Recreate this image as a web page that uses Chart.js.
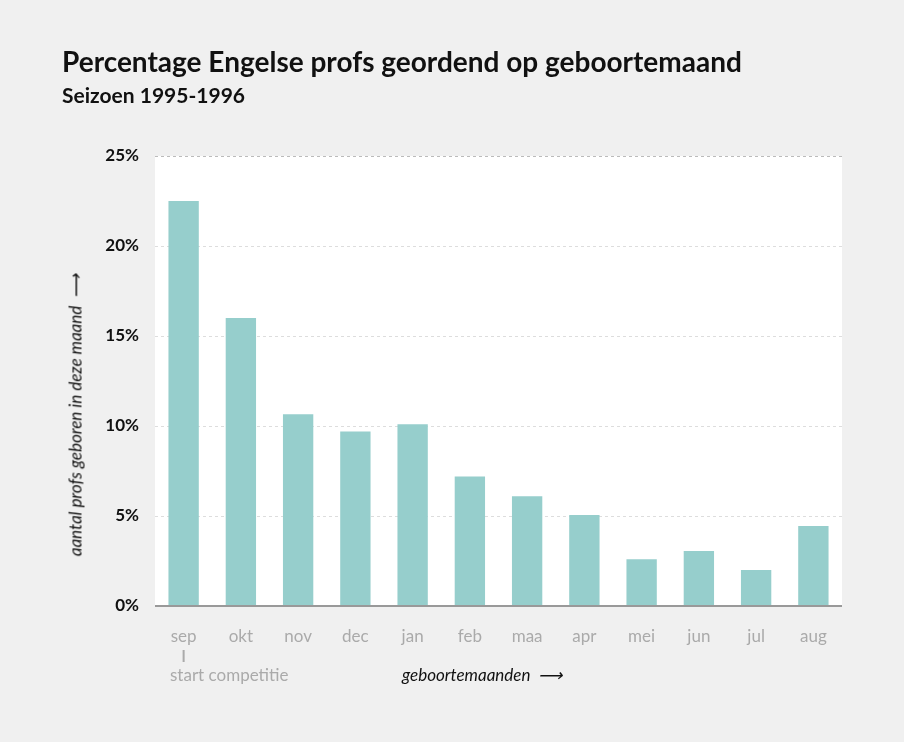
<!DOCTYPE html>
<html><head><meta charset="utf-8">
<script src="https://cdn.jsdelivr.net/npm/chart.js@4"></script>
<style>
body{margin:0;background:#f0f0f0;font-family:Lato,"Open Sans",sans-serif;}
#wrap{position:relative;width:904px;height:742px;}
canvas{position:absolute;left:0;top:0;}
.t{position:absolute;white-space:nowrap;}
</style></head><body>
<div id="wrap">
<canvas id="c" width="904" height="742"></canvas>
<div class="t" style="left:62px;top:44px;font-size:28px;font-weight:bold;color:#111;">Percentage Engelse profs geordend op geboortemaand</div>
<div class="t" style="left:62px;top:82px;font-size:21px;font-weight:bold;color:#111;">Seizoen 1995-1996</div>
<div class="t" style="left:170px;top:664px;font-size:17px;color:#aaa;">start competitie</div>
<div class="t" style="left:402px;top:664px;font-size:17px;font-style:italic;color:#111;">geboortemaanden &nbsp;⟶</div>
<div class="t" style="left:75px;top:415px;font-size:17px;font-style:italic;color:#111;transform:translate(-50%,-50%) rotate(-90deg);">aantal profs geboren in deze maand &nbsp;⟶</div>
</div>
<script>
const months=["sep","okt","nov","dec","jan","feb","maa","apr","mei","jun","jul","aug"];
const percentages=[22.5,16.0,10.65,9.7,10.1,7.2,6.1,5.05,2.6,3.05,2.0,4.45];
const yTicks=[0,5,10,15,20,25];
const bg={id:'bg',beforeDraw(ch){const a=ch.chartArea,x=ch.ctx;x.save();x.fillStyle='#fff';x.fillRect(a.left,a.top,a.right-a.left,a.bottom-a.top);x.restore();},
afterDraw(ch){const x=ch.ctx,px=ch.scales.x.getPixelForValue(0);x.save();x.strokeStyle='#aaa';x.lineWidth=2;x.beginPath();x.moveTo(px,650);x.lineTo(px,662);x.stroke();
const a=ch.chartArea;x.strokeStyle='#999';x.beginPath();x.moveTo(a.left,a.bottom);x.lineTo(a.right,a.bottom);x.stroke();x.restore();}};
new Chart(document.getElementById('c'),{type:'bar',
data:{labels:months,datasets:[{data:percentages,backgroundColor:'#96cecc',barPercentage:0.53,categoryPercentage:1}]},
options:{responsive:false,animation:false,layout:{padding:{top:156,right:62,left:0,bottom:0}},
plugins:{legend:{display:false},tooltip:{enabled:false}},
scales:{
x:{afterFit:s=>{s.height=136;},grid:{display:false},border:{display:false},ticks:{color:'#aaa',padding:12,font:{size:17,family:'Lato'}}},
y:{min:0,max:25,afterFit:s=>{s.width=155;},afterBuildTicks:s=>{s.ticks=yTicks.map(v=>({value:v}));},
grid:{color:c=>c.tick.value===25?'#bbb':'#ddd',drawTicks:false},border:{display:false,dash:[3,3]},
ticks:{padding:16,color:'#111',font:{size:17,weight:'bold',family:'Lato'},callback:v=>v+'%'}}}},
plugins:[bg]});
</script></body></html>
